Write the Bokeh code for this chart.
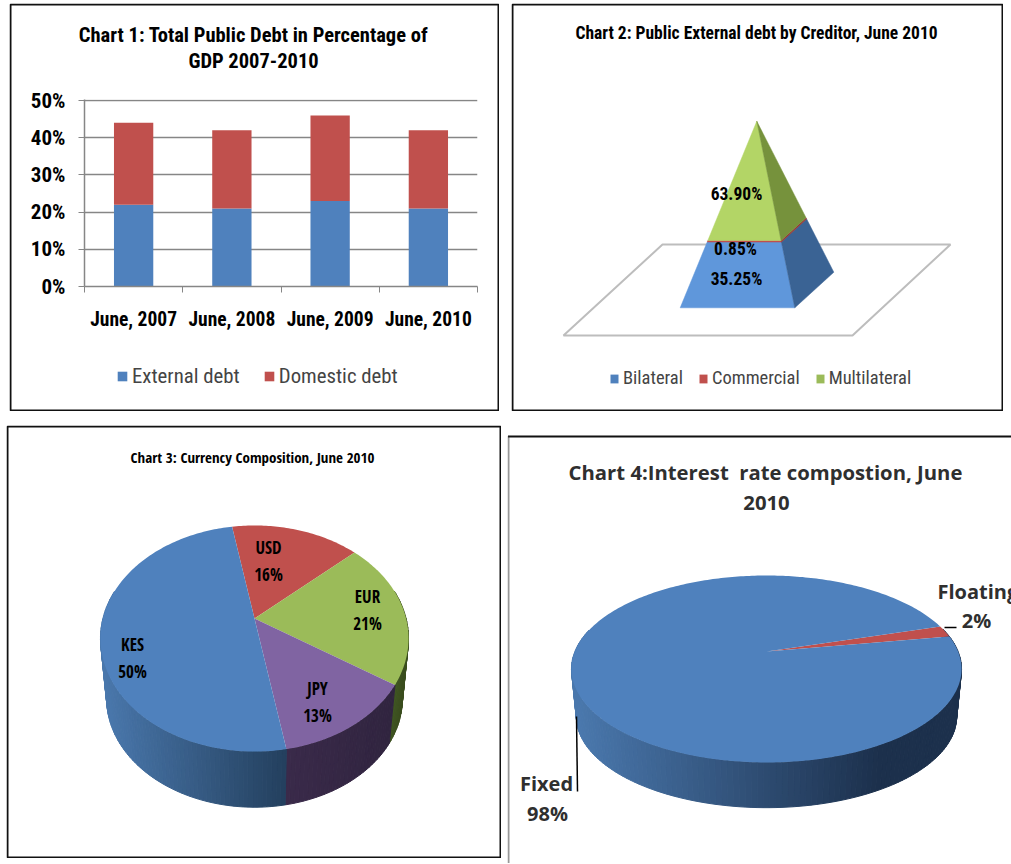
import numpy as np
from bokeh.plotting import figure
from bokeh.layouts import column, row
from bokeh.models import (Range1d, FixedTicker, PrintfTickFormatter, Legend, LegendItem, BoxAnnotation)
from bokeh.core.properties import value
from bokeh.embed import file_html
from bokeh.resources import INLINE

# ---------- data ----------
periods = ["June, 2007", "June, 2008", "June, 2009", "June, 2010"]
external_debt = [22, 21, 23, 21]
domestic_debt = [22, 21, 23, 21]
y_ticks = [0, 10, 20, 30, 40, 50]
debt_series = ["External debt", "Domestic debt"]

creditors = ["Bilateral", "Commercial", "Multilateral"]
creditor_shares = [35.25, 0.85, 63.90]

currencies = ["USD", "EUR", "JPY", "KES"]
currency_shares = [16, 21, 13, 50]

rate_types = ["Floating", "Fixed"]
rate_shares = [2, 98]

# ---------- style ----------
NARROW_NAME = "Roboto Condensed"
NARROW = value(NARROW_NAME)
TIGHT = value("Open Sans Condensed")
WIDE = value("Open Sans")
BLUE, RED, GREEN, PURPLE = "#4f81bd", "#c0504d", "#9bbb59", "#8064a2"


def panel(x0, y0, x1, y1, margin):
    p = figure(width=x1 - x0, height=y1 - y0, output_backend="svg", toolbar_location=None,
               x_range=Range1d(x0, x1), y_range=Range1d(y1, y0), min_border=0,
               x_axis_location=None, y_axis_location=None, margin=margin, frame_align=False,
               outline_line_color=None, background_fill_color="white", border_fill_color="white")
    p.grid.visible = False
    return p


def border(p, w, h):
    p.add_layout(BoxAnnotation(left=1, right=w - 1, top=1, bottom=h - 1,
                               left_units="canvas", right_units="canvas",
                               top_units="canvas", bottom_units="canvas",
                               fill_color=None, fill_alpha=0, line_color="#111111", line_alpha=1, line_width=2))


def txt(p, x, y, s, size, font=NARROW, style="bold", color="black", align="center"):
    p.text(x=[x], y=[y], text=[s], text_font=font, text_font_size=size, text_font_style=style,
           text_color=color, text_align=align, text_baseline="middle")


def mix(c0, c1, f):
    a = [int(c0[i:i + 2], 16) for i in (1, 3, 5)]
    b = [int(c1[i:i + 2], 16) for i in (1, 3, 5)]
    f = min(max(f, 0), 1)
    return "#%02x%02x%02x" % tuple(int(round(u + (v - u) * f)) for u, v in zip(a, b))


def pie3d(p, shares, colors, start_deg, cx, cy, a, b, k, s, drop, shades):
    """Perspective 3D pie: shares run clockwise from start_deg; shades[i] gives that slice's wall colours."""
    def proj(phi, scale=1.0, dy=0.0):
        u, v = np.cos(phi), np.sin(phi)
        d = 1 + k * v
        return cx + scale * a * u / d, cy - scale * b * v / d + dy

    total = float(sum(shares))
    edges = np.radians(start_deg - np.concatenate([[0], np.cumsum(shares)]) * 360.0 / total)
    for i in range(len(shares)):
        hi, lo = edges[i], edges[i + 1]
        steps = max(int(abs(hi - lo) / np.radians(1.5)), 1)
        ph = np.linspace(hi, lo, steps + 1)
        for j in range(steps):
            mid = 0.5 * (ph[j] + ph[j + 1])
            if np.sin(mid) > 0.25:
                continue
            xt0, yt0 = proj(ph[j]); xt1, yt1 = proj(ph[j + 1])
            xb0, yb0 = proj(ph[j], s, drop); xb1, yb1 = proj(ph[j + 1], s, drop)
            c0, c1, xa, xz = shades[i]
            col = mix(c0, c1, (0.5 * (xt0 + xt1) - xa) / (xz - xa))
            p.patch([xt0, xt1, xb1, xb0], [yt0, yt1, yb1, yb0], fill_color=col, line_color=col, line_width=1)
    for i in range(len(shares)):
        ph = np.linspace(edges[i], edges[i + 1], max(int(abs(edges[i] - edges[i + 1]) / np.radians(1)), 2) + 1)
        xs, ys = proj(ph)
        p.patch(np.r_[cx, xs], np.r_[cy, ys], fill_color=colors[i], line_color=None)


# ---------- chart 1: backdrop with border, title, legend ----------
W1, H1 = 490, 408
p0 = panel(9, 3, 9 + W1, 3 + H1, (3, 0, 0, 9))
border(p0, W1, H1)
txt(p0, 253, 34, "Chart 1: Total Public Debt in Percentage of", "20.5px")
txt(p0, 253, 60, "GDP 2007-2010", "20.5px")
rs0 = [p0.vbar(x=[np.nan], width=1, bottom=0, top=1, fill_color=c, line_color=None) for c in (BLUE, RED)]
p0.add_layout(Legend(items=[LegendItem(label=n, renderers=[r]) for n, r in zip(debt_series, rs0)],
                     orientation="horizontal", location=(107, 23), background_fill_alpha=0, border_line_color=None,
                     padding=0, margin=0, spacing=23, glyph_width=12, glyph_height=12, label_standoff=4,
                     label_text_font=NARROW_NAME, label_text_font_size="20.8px", label_height=12))

# ---------- chart 1: bars and axes on a transparent figure above it ----------
p1 = figure(width=W1, height=H1, output_backend="svg", toolbar_location=None,
            x_range=Range1d(0, 4), y_range=Range1d(0, 50.27), margin=(3, 0, 0, -W1), frame_align=False,
            min_border_left=75, min_border_right=22, min_border_top=96, min_border_bottom=125,
            outline_line_color=None, border_fill_alpha=0, background_fill_alpha=0)
pos = np.arange(len(periods)) + 0.5
ext = np.array(external_debt, float)
dom = np.array(domestic_debt, float)
p1.vbar(x=pos, width=0.4, bottom=0, top=ext, fill_color=BLUE, line_color=None)
p1.vbar(x=pos, width=0.4, bottom=ext, top=ext + dom, fill_color=RED, line_color=None)
p1.xgrid.visible = False
p1.ygrid.grid_line_color = "#868686"
p1.ygrid.grid_line_width = 1.5
p1.ygrid.level = "underlay"
p1.yaxis.ticker = FixedTicker(ticks=y_ticks)
p1.yaxis.formatter = PrintfTickFormatter(format="%d%%")
p1.xaxis.ticker = FixedTicker(ticks=list(pos), minor_ticks=list(range(len(periods) + 1)))
p1.xaxis.major_label_overrides = {float(x): s for x, s in zip(pos, periods)}
for ax in (p1.xaxis[0], p1.yaxis[0]):
    ax.axis_line_color = "#868686"
    ax.axis_line_width = 1.5
    ax.major_label_text_font = NARROW_NAME
    ax.major_label_text_font_style = "bold"
    ax.major_label_text_color = "black"
    ax.major_tick_line_color = "#868686"
    ax.minor_tick_line_color = "#868686"
p1.yaxis.major_label_text_font_size = "21px"
p1.xaxis.major_label_text_font_size = "19.5px"
p1.yaxis.major_tick_out = 6
p1.yaxis.major_tick_in = 0
p1.yaxis.minor_tick_line_color = None
p1.yaxis.major_label_standoff = 13
p1.xaxis.major_tick_out = 0
p1.xaxis.major_tick_in = 0
p1.xaxis.minor_tick_out = 6
p1.xaxis.minor_tick_in = 0
p1.xaxis.major_label_standoff = 15

# ---------- chart 2 ----------
p2 = panel(512, 3, 1004, 411, (3, 0, 0, 12))
border(p2, 492, 408)
p2.patch([564, 853, 951, 663], [335, 335, 244, 244], fill_color="white", line_color="#bdbdbd", line_width=2)
APEX = np.array([757.3, 120.7])
FL, FR, BR = np.array([680.7, 307.3]), np.array([795.3, 307.3]), np.array([834.3, 271.7])
fr = np.concatenate([[0], np.cumsum(creditor_shares)]) / sum(creditor_shares)
fronts = ["#5f97db", "#c0504d", "#b3d566"]
sides = ["#3a6394", "#953735", "#76923c"]
legend_colors = [BLUE, RED, GREEN]
for i in range(3):
    f0, f1 = fr[i], fr[i + 1]
    q = [FL + f0 * (APEX - FL), FR + f0 * (APEX - FR), FR + f1 * (APEX - FR), FL + f1 * (APEX - FL)]
    p2.patch([c[0] for c in q], [c[1] for c in q], fill_color=fronts[i], line_color=fronts[i], line_width=0.5)
    q = [FR + f0 * (APEX - FR), BR + f0 * (APEX - BR), BR + f1 * (APEX - BR), FR + f1 * (APEX - FR)]
    p2.patch([c[0] for c in q], [c[1] for c in q], fill_color=sides[i], line_color=sides[i], line_width=0.5)
for (lx, ly), share in zip([(737, 278), (736, 248), (737, 193)], creditor_shares):
    txt(p2, lx, ly, "%.2f%%" % share, "17.5px")
txt(p2, 757, 32, "Chart 2: Public External debt by Creditor, June 2010", "17.5px")
rs = [p2.vbar(x=[np.nan], width=1, bottom=0, top=1, fill_color=c, line_color=None) for c in legend_colors]
p2.add_layout(Legend(items=[LegendItem(label=n, renderers=[r]) for n, r in zip(creditors, rs)],
                     orientation="horizontal", location=(98, 22), background_fill_alpha=0, border_line_color=None,
                     padding=0, margin=0, spacing=15, glyph_width=10, glyph_height=11, label_standoff=4,
                     label_text_font=NARROW_NAME, label_text_font_size="18.5px", label_height=11))

# ---------- chart 3 ----------
p3 = panel(7, 426, 502, 859, (14, 0, 0, 6))
border(p3, 495, 433)
pie3d(p3, currency_shares, [RED, GREEN, PURPLE, BLUE], 100, 255, 619, 151.6, 109.5, 0.177, 0.96, 61,
      [("#953735", "#953735", 0, 1), ("#3f5521", "#3a4d1e", 395, 405),
       ("#3a2a4a", "#30243f", 286, 395), ("#4a78ad", "#24405e", 100, 286)])
for (lx, ly), n, share in zip([(269, 548), (368, 597), (318, 689), (133, 645)], currencies, currency_shares):
    txt(p3, lx, ly, n, "17px", TIGHT)
    txt(p3, lx, ly + 27, "%d%%" % share, "17px", TIGHT)
txt(p3, 253, 457, "Chart 3: Currency Composition, June 2010", "15px", TIGHT)

# ---------- chart 4 ----------
p4 = panel(507, 435, 1011, 864, (23, 0, 0, 6))
p4.line([507.5, 1011], [437, 437], line_color="#111111", line_width=2)
p4.line([508, 508], [437, 864], line_color="#333333", line_width=2, line_dash="1 1")
pie3d(p4, rate_shares, [RED, BLUE], 17, 766, 652, 191.6, 90.2, 0.187, 0.975, 48,
      [("#1e3350", "#1e3350", 0, 1), ("#4a78ad", "#1c304c", 575, 880)])
p4.line([944, 956], [628, 628], line_color="black", line_width=1.5)
p4.line([576, 577], [717, 792], line_color="black", line_width=1.5)
GREY = "#2f2f2f"
txt(p4, 765, 472, "Chart 4:Interest \u00a0rate compostion, June", "20.3px", WIDE, color=GREY)
txt(p4, 766, 503, "2010", "20.3px", WIDE, color=GREY)
txt(p4, 937, 592, rate_types[0], "20px", WIDE, color=GREY, align="left")
txt(p4, 976, 621, "%d%%" % rate_shares[0], "20px", WIDE, color=GREY)
txt(p4, 546, 784, rate_types[1], "20px", WIDE, color=GREY)
txt(p4, 547, 814, "%d%%" % rate_shares[1], "20px", WIDE, color=GREY)

page = column(row(p0, p1, p2), row(p3, p4))
open("out.html", "w").write(file_html(page, INLINE))
